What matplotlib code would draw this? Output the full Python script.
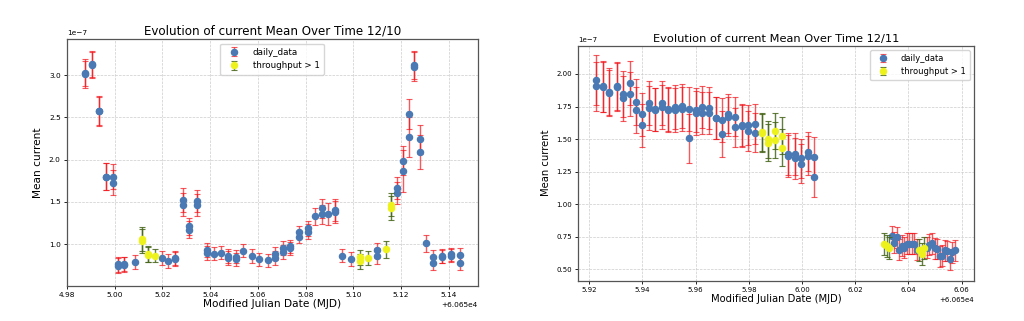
import matplotlib
matplotlib.use("Agg")
import matplotlib.pyplot as plt

SCALE = 1e-7   # currents below are in units of 1e-7

# ---- 12/10 : daily_data ----
d10_mjd = [60654.9877, 60654.9877, 60654.9905, 60654.9905, 60654.9934, 60654.9934,
           60654.9964, 60654.9964, 60654.9992, 60654.9992, 60655.0012, 60655.0012,
           60655.0040, 60655.0040, 60655.0083, 60655.0199, 60655.0225,
           60655.0253, 60655.0253, 60655.0285, 60655.0285, 60655.0313, 60655.0313,
           60655.0344, 60655.0344, 60655.0385, 60655.0385, 60655.0415, 60655.0445,
           60655.0476, 60655.0476, 60655.0507, 60655.0507, 60655.0539, 60655.0573,
           60655.0606, 60655.0640, 60655.0672, 60655.0672, 60655.0706, 60655.0706,
           60655.0735, 60655.0735, 60655.0773, 60655.0773, 60655.0808, 60655.0808,
           60655.0838, 60655.0868, 60655.0868, 60655.0895, 60655.0923, 60655.0923,
           60655.0954, 60655.0990, 60655.1098, 60655.1098, 60655.1184, 60655.1184,
           60655.1208, 60655.1208, 60655.1231, 60655.1231, 60655.1255, 60655.1255,
           60655.1279, 60655.1279, 60655.1304, 60655.1334, 60655.1334,
           60655.1372, 60655.1372, 60655.1410, 60655.1410, 60655.1446, 60655.1446]
d10_mean = [3.01, 3.03, 3.12, 3.13, 2.58, 2.57,
            1.80, 1.80, 1.80, 1.73, 0.765, 0.745,
            0.77, 0.76, 0.79, 0.835, 0.80,
            0.835, 0.825, 1.52, 1.47, 1.215, 1.17,
            1.51, 1.465, 0.935, 0.895, 0.89, 0.90,
            0.86, 0.835, 0.855, 0.82, 0.925, 0.86,
            0.82, 0.81, 0.89, 0.835, 0.955, 0.91,
            0.975, 0.95, 1.14, 1.085, 1.19, 1.15,
            1.33, 1.425, 1.355, 1.36, 1.405, 1.385,
            0.865, 0.825, 0.93, 0.86, 1.67, 1.61,
            1.99, 1.87, 2.54, 2.27, 3.12, 3.10,
            2.24, 2.09, 1.01, 0.85, 0.78,
            0.86, 0.855, 0.88, 0.865, 0.87, 0.78]
d10_err = [0.16, 0.16, 0.15, 0.15, 0.17, 0.17,
           0.155, 0.155, 0.15, 0.15, 0.09, 0.09,
           0.085, 0.085, 0.08, 0.085, 0.08,
           0.08, 0.08, 0.14, 0.14, 0.10, 0.10,
           0.13, 0.13, 0.08, 0.08, 0.08, 0.08,
           0.08, 0.08, 0.08, 0.08, 0.08, 0.08,
           0.08, 0.08, 0.08, 0.08, 0.08, 0.08,
           0.08, 0.08, 0.07, 0.07, 0.09, 0.09,
           0.10, 0.11, 0.11, 0.13, 0.13, 0.13,
           0.08, 0.08, 0.09, 0.09, 0.13, 0.13,
           0.17, 0.25, 0.18, 0.24, 0.17, 0.17,
           0.17, 0.20, 0.10, 0.08, 0.08,
           0.08, 0.08, 0.08, 0.08, 0.08, 0.08]

# ---- 12/10 : throughput > 1 ----
t10_mjd = [60655.0115, 60655.0115, 60655.0139, 60655.0139, 60655.0167,
           60655.1027, 60655.1027, 60655.1063, 60655.1135, 60655.1159, 60655.1159]
t10_mean = [1.06, 1.04, 0.886, 0.875, 0.865, 0.845, 0.80, 0.84, 0.94, 1.47, 1.43]
t10_err = [0.14, 0.14, 0.09, 0.09, 0.08, 0.09, 0.09, 0.08, 0.10, 0.14, 0.14]

# ---- 12/11 : daily_data ----
d11_mjd = [60655.9226, 60655.9226, 60655.9251, 60655.9251, 60655.9276, 60655.9276,
           60655.9303, 60655.9303, 60655.9327, 60655.9327, 60655.9352, 60655.9352,
           60655.9377, 60655.9377, 60655.9399, 60655.9399, 60655.9424, 60655.9424,
           60655.9448, 60655.9448, 60655.9473, 60655.9473, 60655.9498, 60655.9498,
           60655.9523, 60655.9523, 60655.9550, 60655.9550, 60655.9575, 60655.9575,
           60655.9600, 60655.9600, 60655.9625, 60655.9625, 60655.9650, 60655.9650,
           60655.9675, 60655.9675, 60655.9700, 60655.9700, 60655.9723, 60655.9723,
           60655.9748, 60655.9748, 60655.9773, 60655.9773, 60655.9798, 60655.9798,
           60655.9823, 60655.9823, 60655.9946, 60655.9946, 60655.9973, 60655.9973,
           60655.9996, 60655.9996, 60656.0021, 60656.0021, 60656.0046, 60656.0046,
           60656.0337, 60656.0346, 60656.0356, 60656.0365, 60656.0375, 60656.0384,
           60656.0394, 60656.0403, 60656.0413, 60656.0422, 60656.0432,
           60656.0470, 60656.0479, 60656.0489, 60656.0498, 60656.0508, 60656.0517,
           60656.0527, 60656.0536, 60656.0546, 60656.0555, 60656.0565, 60656.0575]
d11_mean = [1.905, 1.954, 1.905, 1.900, 1.854, 1.864,
            1.900, 1.905, 1.846, 1.813, 1.928, 1.844,
            1.785, 1.724, 1.690, 1.608, 1.775, 1.736,
            1.724, 1.729, 1.775, 1.749, 1.729, 1.725,
            1.724, 1.749, 1.754, 1.729, 1.729, 1.506,
            1.724, 1.698, 1.744, 1.698, 1.741, 1.698,
            1.662, 1.662, 1.647, 1.539, 1.693, 1.673,
            1.673, 1.590, 1.608, 1.603, 1.608, 1.562,
            1.616, 1.549, 1.370, 1.383, 1.385, 1.352,
            1.352, 1.311, 1.403, 1.373, 1.365, 1.206,
            0.755, 0.705, 0.745, 0.650, 0.680, 0.665,
            0.695, 0.695, 0.695, 0.695, 0.650,
            0.665, 0.690, 0.700, 0.660, 0.655, 0.600,
            0.605, 0.645, 0.640, 0.575, 0.630, 0.645]
d11_err = [0.19, 0.19, 0.195, 0.195, 0.18, 0.18,
           0.185, 0.185, 0.175, 0.175, 0.17, 0.17,
           0.175, 0.175, 0.165, 0.165, 0.17, 0.17,
           0.165, 0.165, 0.17, 0.17, 0.17, 0.17,
           0.17, 0.17, 0.17, 0.17, 0.17, 0.19,
           0.17, 0.17, 0.16, 0.16, 0.16, 0.16,
           0.16, 0.16, 0.17, 0.18, 0.15, 0.15,
           0.15, 0.15, 0.16, 0.16, 0.15, 0.15,
           0.15, 0.15, 0.16, 0.16, 0.16, 0.16,
           0.15, 0.15, 0.15, 0.15, 0.15, 0.15,
           0.08, 0.08, 0.08, 0.08, 0.08, 0.08,
           0.08, 0.08, 0.08, 0.08, 0.08,
           0.08, 0.08, 0.08, 0.08, 0.08, 0.08,
           0.08, 0.08, 0.08, 0.08, 0.08, 0.08]

# ---- 12/11 : throughput > 1 ----
t11_mjd = [60655.9848, 60655.9848, 60655.9873, 60655.9873, 60655.9898, 60655.9898,
           60655.9923, 60655.9923, 60656.0308, 60656.0318, 60656.0327,
           60656.0441, 60656.0451, 60656.0460]
t11_mean = [1.552, 1.548, 1.498, 1.473, 1.562, 1.493,
            1.526, 1.434, 0.695, 0.680, 0.665, 0.650, 0.615, 0.665]
t11_err = [0.145, 0.145, 0.14, 0.14, 0.14, 0.14,
           0.14, 0.14, 0.085, 0.085, 0.085, 0.085, 0.085, 0.085]

BLUE = "#4a79b3"
RED_E = (0.95, 0.08, 0.1, 0.7)
YEL = "#eef21c"
GRN_E = (0.28, 0.40, 0.10, 0.85)


def panel(ax, d, t, title, fs, legend_loc):
    sc = lambda v: [x * SCALE for x in v]
    ax.errorbar(d[0], sc(d[1]), yerr=sc(d[2]), fmt="o", color=BLUE, ms=4.4,
                ecolor=RED_E, elinewidth=1, capsize=2.3, capthick=0.8,
                label="daily_data", zorder=3)
    ax.errorbar(t[0], sc(t[1]), yerr=sc(t[2]), fmt="o", color=YEL, ms=4.4,
                ecolor=GRN_E, elinewidth=1, capsize=2.3, capthick=0.8,
                label="throughput > 1", zorder=4)
    ax.set_title(title, fontsize=fs["title"], pad=3)
    ax.set_xlabel("Modified Julian Date (MJD)", fontsize=fs["label"], labelpad=1)
    ax.set_ylabel("Mean current", fontsize=fs["label"])
    ax.tick_params(labelsize=fs["tick"], length=2.5, width=0.6, pad=2)
    ax.xaxis.get_offset_text().set_fontsize(fs["tick"])
    ax.yaxis.get_offset_text().set_fontsize(fs["tick"])
    ax.grid(True, ls="--", lw=0.5, color="#cccccc")
    for s in ax.spines.values():
        s.set_color("#555555")
        s.set_linewidth(0.9)
    ax.legend(loc=legend_loc, fontsize=fs["legend"], borderpad=0.5,
              handletextpad=1.2, labelspacing=0.5)


fig = plt.figure(figsize=(10.24, 3.21), dpi=100)
ax1 = fig.add_axes([0.0654, 0.110, 0.401, 0.768])
ax2 = fig.add_axes([0.5647, 0.1255, 0.3864, 0.732])

panel(ax1, (d10_mjd, d10_mean, d10_err), (t10_mjd, t10_mean, t10_err),
      "Evolution of current Mean Over Time 12/10",
      dict(title=8.6, label=7.6, tick=5.3, legend=6.3), "upper center")
ax1.set_xlim(60654.98, 60655.152)
ax1.set_ylim(0.51e-7, 3.425e-7)

panel(ax2, (d11_mjd, d11_mean, d11_err), (t11_mjd, t11_mean, t11_err),
      "Evolution of current Mean Over Time 12/11",
      dict(title=8.2, label=7.2, tick=5.0, legend=6.0), "upper right")
ax2.set_xlim(60655.9159, 60656.0646)
ax2.set_ylim(0.412e-7, 2.217e-7)

fig.savefig("out.png", dpi=100)
